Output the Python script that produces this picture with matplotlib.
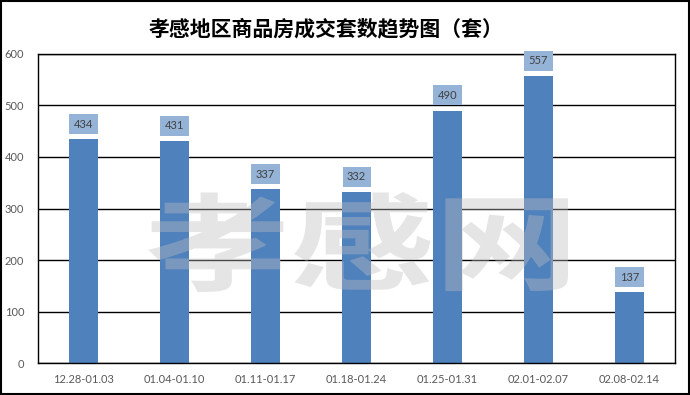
import matplotlib
matplotlib.use('Agg')
import matplotlib.pyplot as plt
from matplotlib.patches import Rectangle, PathPatch
from matplotlib.textpath import TextPath
from matplotlib.font_manager import FontProperties
from matplotlib.transforms import Affine2D

plt.rcParams['font.family'] = ['Lato', 'Noto Sans CJK SC', 'DejaVu Sans']

weeks = ['12.28-01.03', '01.04-01.10', '01.11-01.17', '01.18-01.24',
         '01.25-01.31', '02.01-02.07', '02.08-02.14']
deals = [434, 431, 337, 332, 490, 557, 137]
yticks = [0, 100, 200, 300, 400, 500, 600]

title = '孝感地区商品房成交套数趋势图（套）'
watermark = '孝感网'

barColor = '#4F81BD'
boxColor = '#95B3D7'
tickColor = '#595959'

fig = plt.figure(figsize=(6.9, 3.95), dpi=100)
ax = fig.add_axes([0.0551, 0.081, 0.9232, 0.7823])

x = list(range(len(weeks)))
ax.bar(x, deals, width=0.31, color=barColor, zorder=2)

# value labels in little boxes just above each bar
for xi, v in zip(x, deals):
    ax.annotate(str(v), (xi, v), xytext=(0, 11), textcoords='offset points',
                ha='center', va='center', fontsize=8, color='#404040', zorder=4,
                bbox=dict(boxstyle='square,pad=0.4', fc=boxColor, ec='none'))

ax.set_xlim(-0.5, len(weeks) - 0.5)
ax.set_ylim(0, 600)
ax.set_yticks(yticks)
ax.set_xticks(x)
ax.set_xticklabels(weeks)
ax.tick_params(axis='both', length=0, labelsize=8, labelcolor=tickColor)
ax.tick_params(axis='y', pad=10)
ax.tick_params(axis='x', pad=8)
ax.yaxis.grid(True, color='black', linewidth=1.0, zorder=1)
ax.set_axisbelow(True)
for s in ax.spines.values():
    s.set_color('black')
    s.set_linewidth(1.0)

# watermark, stretched wide, semi transparent over the bars
fp = FontProperties(family='Noto Sans CJK SC', weight='bold')
tp = TextPath((0, 0), watermark, size=1.0, prop=fp)
ext = tp.get_extents()
sx = 420 / ext.width
sy = 100 / ext.height
tr = Affine2D().translate(-ext.x0, -ext.y0).scale(sx, sy).translate(148, 395 - 292)
patch = PathPatch(tp, transform=tr, fc=(190/255, 190/255, 190/255), ec='none',
                  alpha=0.39, zorder=5)
fig.patches.append(patch)
patch.set_figure(fig)

fig.text(0.473, 0.928, title, ha='center', va='center', fontsize=15,
         fontweight='bold', family=['Noto Sans CJK SC', 'DejaVu Sans'], color='black')

fig.patches.append(Rectangle((0.002, 0.003), 0.996, 0.994, transform=fig.transFigure,
                             fill=False, ec='black', lw=1.5, zorder=10))

fig.savefig('out.png', dpi=100)
